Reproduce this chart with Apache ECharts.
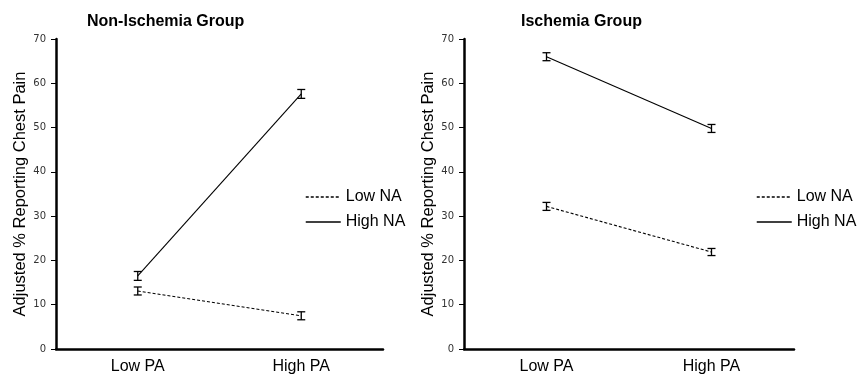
<!DOCTYPE html>
<html>
<head>
<meta charset="utf-8">
<script src="https://cdn.jsdelivr.net/npm/echarts@6/dist/echarts.min.js"></script>
<style>html,body{margin:0;padding:0;background:#fff}#c{width:862px;height:377px}</style>
</head>
<body>
<div id="c"></div>
<script>
var categories = ['Low PA', 'High PA'];
var yTicks = [0, 10, 20, 30, 40, 50, 60, 70];
var titles = ['Non-Ischemia Group', 'Ischemia Group'];
var yAxisName = 'Adjusted % Reporting Chest Pain';
var seriesNames = ['Low NA', 'High NA'];
// Non-Ischemia group
var nonIschLowNA = [13.1, 7.5];
var nonIschHighNA = [16.5, 57.6];
var nonIschLowNAErr = [0.9, 0.9];
var nonIschHighNAErr = [1.0, 1.0];
// Ischemia group
var ischLowNA = [32.2, 21.9];
var ischHighNA = [66.0, 49.8];
var ischLowNAErr = [0.9, 0.8];
var ischHighNAErr = [0.9, 0.9];

var chart = echarts.init(document.getElementById('c'));
var FONT = 'Liberation Sans, Arial, sans-serif';

function errData(vals, errs) {
  return vals.map(function (v, i) { return [i, v - errs[i], v + errs[i]]; });
}
function errSeries(vals, errs, gi) {
  return {
    type: 'custom', xAxisIndex: gi, yAxisIndex: gi, silent: true, z: 3,
    data: errData(vals, errs),
    renderItem: function (params, api) {
      var x = api.value(0);
      var lo = api.coord([x, api.value(1)]);
      var hi = api.coord([x, api.value(2)]);
      var w = 4;
      var st = { stroke: '#000', lineWidth: 1.3 };
      return {
        type: 'group', children: [
          { type: 'line', shape: { x1: lo[0], y1: lo[1], x2: hi[0], y2: hi[1] }, style: st },
          { type: 'line', shape: { x1: lo[0] - w, y1: lo[1], x2: lo[0] + w, y2: lo[1] }, style: st },
          { type: 'line', shape: { x1: hi[0] - w, y1: hi[1], x2: hi[0] + w, y2: hi[1] }, style: st }
        ]
      };
    }
  };
}
function lineSeries(name, vals, gi, dashed) {
  return {
    name: name, type: 'line', xAxisIndex: gi, yAxisIndex: gi, data: vals,
    symbol: 'none', silent: true,
    lineStyle: { color: '#000', width: 1.1, type: dashed ? [3, 2] : 'solid' },
    itemStyle: { color: '#000' }
  };
}
function xAxis(gi) {
  return {
    type: 'category', gridIndex: gi, data: categories, boundaryGap: true,
    axisLine: { lineStyle: { color: '#000', width: 2.5 } },
    axisTick: { show: false },
    axisLabel: { color: '#000', fontSize: 16, fontFamily: FONT, margin: 10 }
  };
}
function yAxis(gi) {
  return {
    type: 'value', gridIndex: gi, min: yTicks[0], max: yTicks[yTicks.length - 1], interval: 10,
    name: yAxisName, nameLocation: 'middle', nameGap: 27,
    nameTextStyle: { color: '#000', fontSize: 16.5, fontFamily: FONT },
    axisLine: { show: true, lineStyle: { color: '#000', width: 2.5 } },
    axisTick: { show: true, length: 5, lineStyle: { color: '#000', width: 1 } },
    axisLabel: { color: '#333', fontSize: 10, fontFamily: 'DejaVu Sans, sans-serif', margin: 10 },
    splitLine: { show: false }
  };
}
function legend(left) {
  return {
    data: seriesNames, orient: 'vertical', left: left, top: 184,
    itemWidth: 35, itemHeight: 14, itemGap: 9,
    itemStyle: { opacity: 0 },
    lineStyle: { width: 1.5, color: '#000' },
    textStyle: { color: '#000', fontSize: 16, fontFamily: FONT },
    selectedMode: false
  };
}

chart.setOption({
  animation: false,
  title: [
    { text: titles[0], left: 82, top: 9, textStyle: { fontSize: 16, fontWeight: 'bold', color: '#000', fontFamily: FONT } },
    { text: titles[1], left: 516, top: 9, textStyle: { fontSize: 16, fontWeight: 'bold', color: '#000', fontFamily: FONT } }
  ],
  legend: [legend(300), legend(751)],
  grid: [
    { left: 56, top: 39, width: 327, height: 310 },
    { left: 464, top: 39, width: 330, height: 310 }
  ],
  xAxis: [xAxis(0), xAxis(1)],
  yAxis: [yAxis(0), yAxis(1)],
  series: [
    lineSeries(seriesNames[0], nonIschLowNA, 0, true),
    lineSeries(seriesNames[1], nonIschHighNA, 0, false),
    lineSeries(seriesNames[0], ischLowNA, 1, true),
    lineSeries(seriesNames[1], ischHighNA, 1, false),
    errSeries(nonIschLowNA, nonIschLowNAErr, 0),
    errSeries(nonIschHighNA, nonIschHighNAErr, 0),
    errSeries(ischLowNA, ischLowNAErr, 1),
    errSeries(ischHighNA, ischHighNAErr, 1)
  ]
});
</script>
</body>
</html>
